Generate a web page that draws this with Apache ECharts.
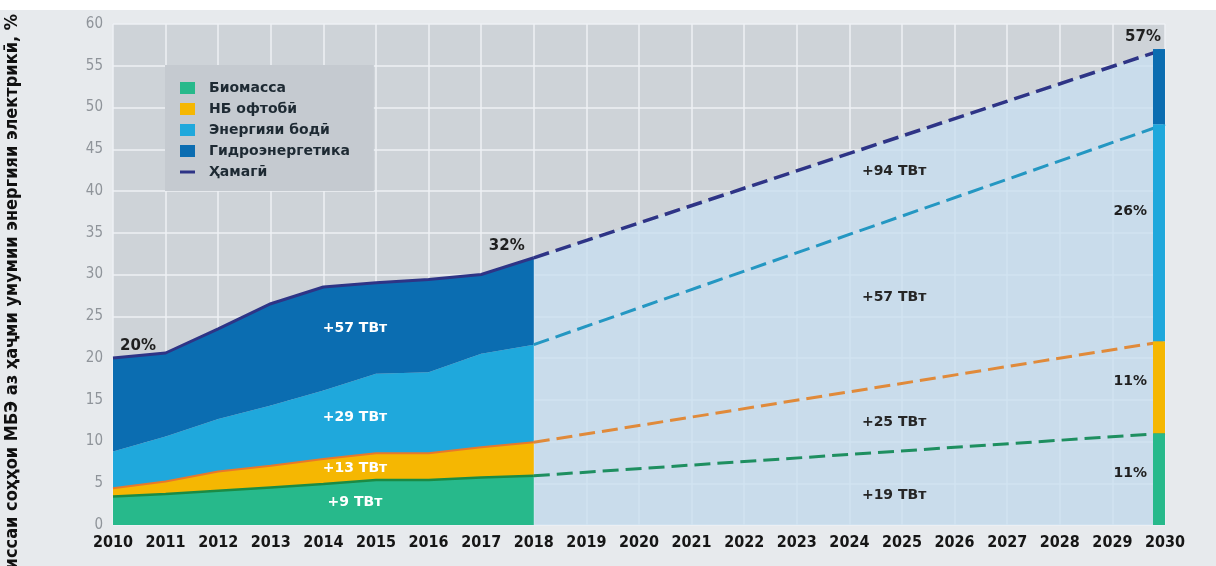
<!DOCTYPE html>
<html>
<head>
<meta charset="utf-8">
<script src="https://cdn.jsdelivr.net/npm/echarts@6/dist/echarts.min.js"></script>
<style>
  html, body { margin: 0; padding: 0; background: #e7eaed; }
  #chart { width: 1216px; height: 566px; }
</style>
</head>
<body>
<div id="chart"></div>
<script>
// Axis years (tick labels)
const yearLabels = ['2010', '2011', '2012', '2013', '2014', '2015', '2016', '2017', '2018', '2019',
  '2020', '2021', '2022', '2023', '2024', '2025', '2026', '2027', '2028', '2029', '2030'];

// Historic shares of each renewable source (% of total electricity), 2010–2018
const histYears = ['2010', '2011', '2012', '2013', '2014', '2015', '2016', '2017', '2018'];
const biomass = [3.4, 3.7, 4.1, 4.5, 4.9, 5.4, 5.4, 5.7, 5.9];
const solar   = [1.0, 1.5, 2.3, 2.6, 3.0, 3.2, 3.2, 3.6, 4.0];
const wind    = [4.4, 5.4, 6.3, 7.2, 8.2, 9.5, 9.7, 11.2, 11.7];
const hydro   = [11.2, 10.0, 10.8, 12.2, 12.4, 10.9, 11.1, 9.5, 10.4];

// Target year and its shares (biomass, solar, wind, hydro)
const targetYear = '2030';
const share2030 = [11, 11, 26, 9];

// Names of the sources and of the total
const sourceNames = ['Биомасса', 'НБ офтобӣ', 'Энергияи бодӣ', 'Гидроэнергетика'];
const totalName = 'Ҳамагӣ';
const axisTitle = 'Ҳиссаи соҳҳои МБЭ аз ҳаҷми умумии энергияи электрикӣ, %';

// Added generation per source, history and outlook
const histGains = ['+9 ТВт', '+13 ТВт', '+29 ТВт', '+57 ТВт'];
const outlookGains = ['+19 ТВт', '+25 ТВт', '+57 ТВт', '+94 ТВт'];

// Styling
const fills = ['#27b98b', '#f5b702', '#1fa8dc', '#0b6db1'];
const edgeLines = ['#1a8b45', '#e9782a', null, null];
const dashColors = ['#1e8f60', '#e08a3a', '#2497c2', '#2e3486'];
const totalColor = '#2e3486';
const condensed = '"DejaVu Sans Condensed", "Liberation Sans Narrow", "DejaVu Sans", sans-serif';
const bold = '"DejaVu Sans", sans-serif';

// Stacked tops
const layers = [biomass, solar, wind, hydro];
const cumul = layers.map((_, li) => histYears.map((_, i) => {
  let s = 0; for (let k = 0; k <= li; k++) s += layers[k][i]; return +s.toFixed(2);
}));
const total = cumul[3];
const last = histYears.length - 1;
const lastYear = histYears[last];
const cumul2030 = share2030.map((_, li) => share2030.slice(0, li + 1).reduce((a, b) => a + b, 0));

// Annotation anchors, in (year, %) on the auxiliary value axis
const histGainAnchor = [[2014.6, 2.75], [2014.6, 6.8], [2014.6, 12.9], [2014.6, 23.6]];
const outlookGainAnchor = [[2024.85, 3.6], [2024.85, 12.3], [2024.85, 27.3], [2024.85, 42.3]];

const valOf = p => Array.isArray(p.value) ? p.value[1] : p.value;
const pctLabel = (offset) => ({
  show: true, position: 'top', offset: offset, distance: 5,
  formatter: p => Math.round(valOf(p)) + '%',
  fontFamily: bold, fontWeight: 'bold', fontSize: 15, color: '#1f1f1f'
});
const gainLabel = (color) => ({
  show: true, position: 'inside', formatter: '{b}',
  fontFamily: bold, fontWeight: 'bold', fontSize: 14, color: color
});

const series = [];

// Light fill under the projected total
series.push({
  type: 'line', silent: true, symbol: 'none', z: 1,
  data: [[lastYear, total[last]], [targetYear, cumul2030[3]]],
  lineStyle: { width: 0 },
  areaStyle: { color: 'rgba(200,223,239,0.78)', opacity: 1 }
});

// Projected dashed lines for each stacked level
cumul2030.forEach((v, li) => {
  const item = { value: [targetYear, v] };
  if (li === 3) item.label = pctLabel([-22, 1]);
  series.push({
    type: 'line', silent: true, z: 2,
    name: li === 3 ? totalName : undefined,
    showSymbol: true, symbol: 'circle', symbolSize: 0,
    data: [[lastYear, cumul[li][last]], item],
    lineStyle: { color: dashColors[li], width: li === 3 ? 3.5 : 3, type: [16, 7] },
    itemStyle: { color: dashColors[li] }
  });
});

// Historic stacked areas
layers.forEach((arr, li) => {
  series.push({
    type: 'line', name: sourceNames[li], stack: 'hist', silent: true, symbol: 'none', z: 2,
    color: fills[li],
    data: arr.slice(),
    areaStyle: { color: fills[li], opacity: 1 },
    lineStyle: edgeLines[li] ? { color: edgeLines[li], width: li === 0 ? 2.5 : 2 } : { width: 0 }
  });
});

// Historic total
series.push({
  type: 'line', name: totalName, silent: true, color: totalColor, z: 3,
  showSymbol: true, symbol: 'circle', symbolSize: 0,
  data: total.map((v, i) => {
    const d = { value: v };
    if (i === 0) d.label = pctLabel([25, 1]);
    if (i === last) d.label = pctLabel([-27, 1]);
    return d;
  }),
  lineStyle: { color: totalColor, width: 3 }
});

// Target-year stacked column (the empty companion stack keeps it left of the tick)
share2030.forEach((v, li) => {
  series.push({
    type: 'bar', name: sourceNames[li], stack: 'target', silent: true, z: 4,
    barWidth: 12, barGap: '0%', color: fills[li],
    data: [[targetYear, v]],
    label: li < 3 ? {
      show: true, position: 'left', distance: 6,
      offset: li === 2 ? [0, -21] : [0, -6],
      formatter: p => valOf(p) + '%',
      fontFamily: bold, fontWeight: 'bold', fontSize: 14, color: '#1f1f1f'
    } : { show: false }
  });
});
series.push({ type: 'bar', stack: 'spacer', silent: true, barWidth: 12, barGap: '0%', data: [] });

// Generation annotations
series.push({
  type: 'line', xAxisIndex: 1, silent: true, data: [], z: 5,
  markPoint: {
    symbol: 'circle', symbolSize: 0, silent: true, label: gainLabel('#ffffff'),
    data: histGains.map((t, i) => ({ name: t, coord: histGainAnchor[i] }))
  }
});
series.push({
  type: 'line', xAxisIndex: 1, silent: true, data: [], z: 5,
  markPoint: {
    symbol: 'circle', symbolSize: 0, silent: true, label: gainLabel('#262626'),
    data: outlookGains.map((t, i) => ({ name: t, coord: outlookGainAnchor[i] }))
  }
});

const chart = echarts.init(document.getElementById('chart'), null, { renderer: 'canvas' });
chart.setOption({
  backgroundColor: '#e7eaed',
  animation: false,
  grid: {
    left: 113, right: 51, top: 24, bottom: 41,
    show: true, backgroundColor: '#ced3d8', borderWidth: 0
  },
  xAxis: [{
    type: 'category', data: yearLabels, boundaryGap: false,
    axisLine: { show: false }, axisTick: { show: false },
    axisLabel: { margin: 10, interval: 0, fontFamily: condensed, fontWeight: 'bold', fontSize: 16, color: '#161616' },
    splitLine: { show: true, interval: 0, lineStyle: { color: '#eef1f4', width: 1.5 } }
  }, {
    type: 'value', min: 2010, max: 2030, show: false
  }],
  yAxis: {
    type: 'value', min: 0, max: 60, interval: 5,
    axisLine: { show: false }, axisTick: { show: false },
    axisLabel: { margin: 10, fontFamily: condensed, fontSize: 15, color: '#8f949a' },
    splitLine: { show: true, lineStyle: { color: '#eef1f4', width: 1.5 } }
  },
  legend: {
    orient: 'vertical', left: 165, top: 65,
    padding: [16, 24, 12, 15], itemGap: 7, itemWidth: 15, itemHeight: 12,
    backgroundColor: '#c5cad0', selectedMode: false,
    textStyle: { fontFamily: bold, fontWeight: 'bold', fontSize: 14, lineHeight: 14, color: '#1e2a33', padding: [0, 0, 0, 9] },
    data: sourceNames.map(n => ({ name: n, icon: 'rect' }))
      .concat([{ name: totalName, icon: 'path://M0,0H20V4H0Z' }])
  },
  graphic: [
    { type: 'rect', silent: true, shape: { x: 0, y: 0, width: 1216, height: 10 }, style: { fill: '#ffffff' } },
    {
      type: 'text', silent: true, x: 12, y: 14, rotation: Math.PI / 2,
      style: {
        text: axisTitle, fill: '#111111',
        fontFamily: condensed, fontWeight: 'bold', fontSize: 18,
        align: 'right', verticalAlign: 'middle'
      }
    }
  ],
  series: series
});
</script>
</body>
</html>
